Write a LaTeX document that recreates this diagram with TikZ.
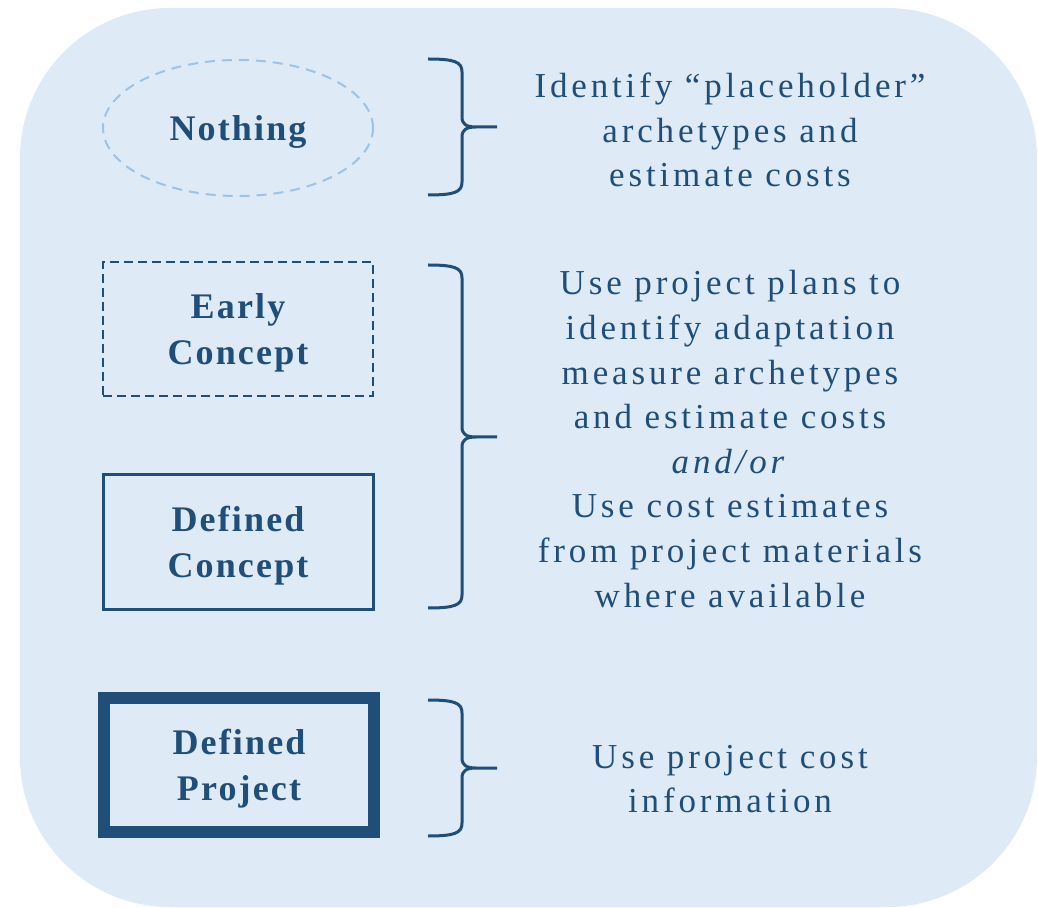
\documentclass[tikz,border=0pt]{standalone}
\usepackage{fontspec}
\setmainfont{Liberation Serif}[LetterSpace=11]
\newfontfamily\stagefont{Liberation Serif}[LetterSpace=6]
\usetikzlibrary{shapes.geometric}
\definecolor{panelblue}{HTML}{DEEAF6}
\definecolor{inkblue}{HTML}{1F4E79}
\definecolor{dashblue}{HTML}{9DC3E6}
\tikzset{
  stage/.style={draw=inkblue, minimum width=135pt, minimum height=67pt, inner sep=0pt,
    align=center, text=inkblue, text depth=0pt,
    font=\stagefont\fontsize{18}{23.2}\selectfont\bfseries},
  note/.style={text=inkblue, align=center, font=\fontsize{17.5}{22.3}\selectfont},
  bracepen/.style={draw=inkblue, line width=1.5pt, line join=round},
}
% right brace: top, tip, bottom (y in px)
\newcommand\sidebrace[3]{%
  \draw[bracepen] (428,#1) .. controls (455,#1) and (462,#1+3) .. (462,#1+13)
    -- (462,#2-10) .. controls (462,#2-3) and (466,#2) .. (476,#2) -- (497,#2)
    (476,#2) .. controls (466,#2) and (462,#2+3) .. (462,#2+10)
    -- (462,#3-13) .. controls (462,#3-3) and (455,#3) .. (428,#3);}

\begin{document}
\begin{tikzpicture}[x=0.5pt,y=-0.5pt]
\useasboundingbox (0,0) rectangle (1038,908);

% background panel
\fill[panelblue, rounded corners=75pt] (20,8) rectangle (1037,907);

% stages of project definition
\node[stage, ellipse, draw=dashblue, line width=1pt, minimum height=68pt,
  dash pattern=on 5pt off 3.5pt] (nothing) at (238,128) {Nothing};
\node[stage, line width=1.2pt, dash pattern=on 4.5pt off 2.5pt] (early) at (238,329) {Early\\Concept};
\node[stage, line width=1.5pt] (defconcept) at (238,542) {Defined\\Concept};
\node[stage, line width=6pt] (defproject) at (239,765) {Defined\\Project};

% braces
\sidebrace{59}{127}{195}
\sidebrace{265}{437}{608}
\sidebrace{700}{768}{836}

% costing approach
\node[note] (placeholder) at (730,130) {Identify “placeholder”\\archetypes and\\estimate costs};
\node[note] (plans) at (730,439) {Use project plans to\\identify adaptation\\measure archetypes\\and estimate costs\\\textit{and/or}\\Use cost estimates\\from project materials\\where available};
\node[note] (costinfo) at (730,779) {Use project cost\\information};
\end{tikzpicture}
\end{document}
